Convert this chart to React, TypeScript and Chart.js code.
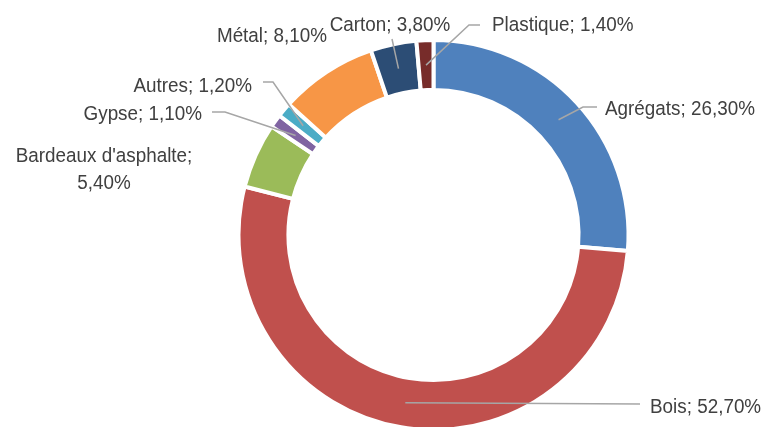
import React, { useEffect, useRef } from "react";
import { Chart, registerables } from "chart.js";

Chart.register(...registerables);

const categories = [
  "Agrégats",
  "Bois",
  "Bardeaux d'asphalte",
  "Gypse",
  "Autres",
  "Métal",
  "Carton",
  "Plastique",
];
const shares = [26.3, 52.7, 5.4, 1.1, 1.2, 8.1, 3.8, 1.4];
const valueLabels = ["26,30%", "52,70%", "5,40%", "1,10%", "1,20%", "8,10%", "3,80%", "1,40%"];
const colors = ["#4F81BD", "#C0504D", "#9BBB59", "#8064A2", "#4BACC6", "#F79646", "#2C4D75", "#772C2A"];

// label placement (annotation layout only)
type LabelPos = {
  x: number;
  y: number;
  align: CanvasTextAlign;
  wrap?: boolean;
  path: number[][];
};
const labelLayout: LabelPos[] = [
  { x: 605, y: 108, align: "left", path: [[597, 107], [583, 107]] },
  { x: 650, y: 406, align: "left", path: [[640, 404]] },
  { x: 104, y: 155, align: "center", wrap: true, path: [] },
  { x: 202, y: 113, align: "right", path: [[212, 112], [225, 112]] },
  { x: 252, y: 85, align: "right", path: [[263, 82], [273, 82]] },
  { x: 327, y: 35, align: "right", path: [] },
  { x: 390, y: 24, align: "center", path: [[392, 39]] },
  { x: 492, y: 24, align: "left", path: [[480, 25], [469, 25]] },
];

const FONT_SIZE = 20.5;
const SCALE_X = 0.92;
const LINE_GAP = 27;

const labelPlugin = {
  id: "pieLabels",
  afterDraw(chart: any) {
    const ctx: CanvasRenderingContext2D = chart.ctx;
    const meta = chart.getDatasetMeta(0);
    ctx.save();
    meta.data.forEach((arc: any, i: number) => {
      const lay = labelLayout[i];
      const mid = (arc.startAngle + arc.endAngle) / 2;
      const r = (arc.innerRadius + arc.outerRadius) / 2;
      const ax = arc.x + Math.cos(mid) * r;
      const ay = arc.y + Math.sin(mid) * r;
      if (lay.path.length) {
        ctx.beginPath();
        ctx.strokeStyle = "#A6A6A6";
        ctx.lineWidth = 1.5;
        ctx.moveTo(lay.path[0][0], lay.path[0][1]);
        for (let k = 1; k < lay.path.length; k++) ctx.lineTo(lay.path[k][0], lay.path[k][1]);
        ctx.lineTo(ax, ay);
        ctx.stroke();
      }
      const lines = lay.wrap
        ? [categories[i] + ";", valueLabels[i]]
        : [categories[i] + "; " + valueLabels[i]];
      ctx.fillStyle = "#404040";
      ctx.font = `${FONT_SIZE}px "Liberation Sans", Arial, sans-serif`;
      ctx.textAlign = lay.align;
      ctx.textBaseline = "alphabetic";
      lines.forEach((t, li) => {
        ctx.save();
        ctx.translate(lay.x, lay.y + li * LINE_GAP + FONT_SIZE * 0.358);
        ctx.scale(SCALE_X, 1);
        ctx.fillText(t, 0, 0);
        ctx.restore();
      });
    });
    ctx.restore();
  },
};

export default function App() {
  const ref = useRef<HTMLCanvasElement>(null);
  useEffect(() => {
    document.body.style.margin = "0";
    const chart = new Chart(ref.current as HTMLCanvasElement, {
      type: "doughnut",
      data: {
        labels: categories,
        datasets: [
          {
            data: shares,
            backgroundColor: colors,
            borderColor: "#FFFFFF",
            borderWidth: 4,
            hoverOffset: 0,
            clip: false as any,
          } as any,
        ],
      },
      options: {
        responsive: false,
        animation: false,
        radius: 195,
        cutout: "74.4%",
        layout: { padding: { top: 43, bottom: 0, left: 102, right: 0 } },
        events: [],
        plugins: {
          legend: { display: false },
          tooltip: { enabled: false },
        },
      } as any,
      plugins: [labelPlugin],
    });
    return () => chart.destroy();
  }, []);
  return (
    <canvas
      ref={ref}
      width={765}
      height={427}
      style={{ display: "block", width: 765, height: 427 }}
    />
  );
}
